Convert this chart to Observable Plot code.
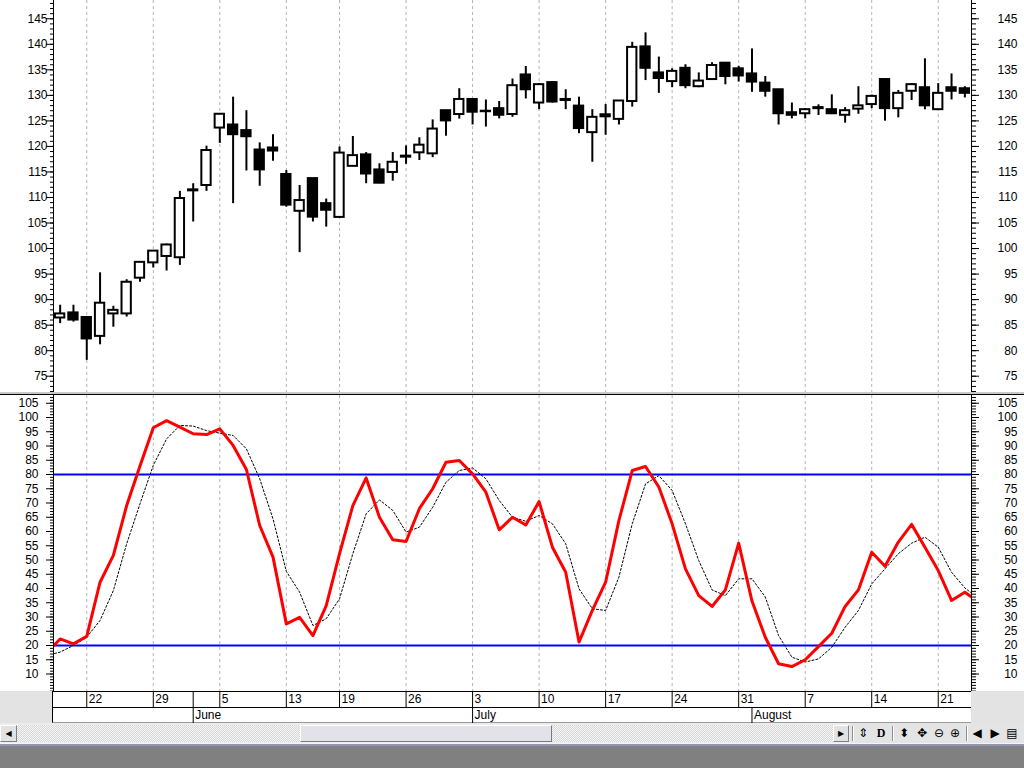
<!DOCTYPE html>
<html>
<head>
<meta charset="utf-8">
<script src="https://cdn.jsdelivr.net/npm/d3@7"></script>
<script src="https://cdn.jsdelivr.net/npm/@observablehq/plot@0.6"></script>
<style>
html, body { margin:0; padding:0; background:#fff; }
#root { position:relative; width:1024px; height:768px; overflow:hidden; font-family:"Liberation Sans", Arial, sans-serif; }
.abs { position:absolute; }
#topChart { left:0; top:0; }
#sep1 { left:0; top:392px; width:1024px; height:2px; background:#c8c8c8; }
#sep2 { left:0; top:394px; width:1024px; height:1px; background:#000; }
#botChart { left:0; top:395px; }
#dateBg { left:0; top:691px; width:1024px; height:32px; background:#e3e3e3; }
#dateBox { left:52px; top:691px; width:919px; height:32px; background:#fff; box-sizing:border-box; border-top:1px solid #000; border-left:1px solid #000; border-bottom:1px solid #9a9a9a; }
#dateMid { left:52px; top:707px; width:919px; height:1px; background:#000; }
#dateChart { left:0; top:691px; }
#scrollRow { left:0; top:723px; width:1024px; height:20px; background:#ececec; }
.btn { top:725px; height:17px; box-sizing:border-box; background:#e2e2e2; border:1px solid; border-color:#fff #808080 #808080 #fff; font-size:8px; line-height:15px; text-align:center; color:#000; font-family:"DejaVu Sans", sans-serif; }
#track { left:17px; top:725px; width:816px; height:17px; background: repeating-conic-gradient(#d6d6d6 0 25%, #f6f6f6 0 50%) 0 0/2px 2px; }
#thumb { left:300px; top:725px; width:252px; height:17px; box-sizing:border-box; background:#e2e2e8; border:1px solid; border-color:#fff #7a7a7a #7a7a7a #fff; }
#tools { left:850px; top:723px; width:174px; height:20px; background:#e4e4e4; }
.ico { position:absolute; top:725px; width:14px; height:17px; line-height:17px; text-align:center; font-family:"DejaVu Sans", sans-serif; font-size:12px; color:#000; }
.tsep { position:absolute; top:726px; width:1px; height:15px; background:#909090; border-right:1px solid #fff; }
#lineA { left:0; top:743px; width:1024px; height:1px; background:#f4f4f4; }
#lineB { left:0; top:744px; width:1024px; height:2px; background:#9494b0; }
#grayBar { left:0; top:746px; width:1024px; height:22px; background:#808080; }
svg { overflow: visible; }
</style>
</head>
<body>
<div id="root">
  <div id="topChart" class="abs"></div>
  <div id="sep1" class="abs"></div>
  <div id="sep2" class="abs"></div>
  <div id="botChart" class="abs"></div>
  <div id="dateBg" class="abs"></div>
  <div id="dateBox" class="abs"></div>
  <div id="dateMid" class="abs"></div>
  <div id="dateChart" class="abs"></div>
  <div id="scrollRow" class="abs"></div>
  <div class="abs btn" style="left:0;width:17px;">◀</div>
  <div id="track" class="abs"></div>
  <div id="thumb" class="abs"></div>
  <div class="abs btn" style="left:833px;width:16px;">▶</div>
  <div id="tools" class="abs"></div>
  <div class="tsep" style="left:852px"></div>
  <div class="ico" style="left:856px">⇕</div>
  <div class="ico" style="left:874px;font-weight:bold;font-family:'Liberation Serif',serif;">D</div>
  <div class="tsep" style="left:892px"></div>
  <div class="ico" style="left:897px">⬍</div>
  <div class="ico" style="left:915px">✥</div>
  <div class="ico" style="left:932px">⊖</div>
  <div class="ico" style="left:948px">⊕</div>
  <div class="tsep" style="left:966px"></div>
  <div class="ico" style="left:970px">◀</div>
  <div class="ico" style="left:988px">▶</div>
  <div class="ico" style="left:1005px">▤</div>
  <div id="lineA" class="abs"></div>
  <div id="lineB" class="abs"></div>
  <div id="grayBar" class="abs"></div>
</div>
<script>
// ---- Data ----
// trading-day index 0 = May 18 ... 68 = Aug 23
const open  = [86.4,87.4,86.5,82.8,87.2,87.2,94.2,97.2,98.45,98.2,
  111.3,112.35,123.6,124.2,123.1,119.3,119.7,114.5,107.3,113.7,
  108.8,106.1,116.1,118.35,115.4,114.9,117.9,118.75,118.55,127.0,
  126.25,129.2,126.8,127.4,126.25,134.0,128.5,132.5,129.0,127.9,
  122.7,125.8,125.3,128.8,139.5,134.4,132.7,135.3,131.7,133.1,
  136.3,135.2,134.2,132.4,131.1,126.6,126.4,127.4,127.2,126.1,
  127.3,128.2,133.1,127.4,130.8,131.5,127.2,131.5,131.3];
const high  = [88.9,88.9,86.7,95.25,88.7,93.9,97.45,99.6,100.9,111.2,
  112.7,120.05,126.4,129.65,127.0,120.7,122.3,115.3,112.35,113.7,
  109.7,119.9,121.95,118.8,116.6,118.8,120.1,121.7,125.2,127.0,
  131.3,129.3,129.1,128.8,133.2,135.66,132.3,132.7,131.1,129.65,
  127.2,128.2,128.9,140.4,142.25,137.5,135.2,136.0,134.4,136.4,
  136.3,135.7,139.1,133.7,131.1,128.5,127.4,128.15,130.1,127.6,
  131.7,130.05,133.1,130.96,132.3,137.16,132.3,134.2,131.7];
const low   = [85.3,85.6,78.1,81.15,84.6,86.6,93.4,96.2,95.6,96.7,
  105.2,111.2,120.6,108.8,115.2,112.2,117.1,108.1,99.2,105.2,
  104.2,106.1,116.1,112.7,112.7,113.2,116.5,117.25,117.8,122.0,
  125.35,124.2,123.8,125.4,125.7,129.3,127.2,128.5,127.2,122.5,
  116.9,122.2,124.2,127.7,132.9,130.4,131.5,131.3,131.5,133.1,
  132.07,132.6,130.6,129.65,124.2,125.4,125.4,126.06,126.3,124.56,
  126.3,127.4,124.95,125.6,129.0,127.17,127.2,129.1,129.5];
const close = [87.2,86.0,82.3,89.3,87.9,93.4,97.3,99.5,100.7,109.8,
  111.5,119.2,126.3,122.3,121.9,115.4,119.1,108.5,109.4,106.15,
  107.5,118.7,118.2,114.6,112.8,116.9,118.1,120.25,123.4,125.0,
  129.2,126.7,126.9,126.1,131.9,131.1,132.1,128.7,129.2,123.5,
  125.7,126.2,128.9,139.4,135.3,133.3,134.7,131.9,132.8,135.85,
  133.7,133.8,132.6,130.8,126.4,126.1,127.2,127.6,126.4,127.0,
  127.95,129.8,127.4,130.4,132.1,127.95,130.4,130.8,130.4];

// stochastic oscillator, first value at trading-day index -1
const stochStart = -1;
const pctK = [17.5,22.3,20.6,23.2,42.2,51.6,69.1,83.0,96.4,98.9,96.6,
  94.3,94.0,96.0,90.2,81.75,62.1,51.0,27.6,29.9,23.5,
  34.0,52.2,69.1,78.8,65.0,57.1,56.5,68.0,75.0,84.3,
  84.9,80.2,73.8,60.6,65.0,62.3,70.5,54.5,45.7,21.2,
  32.3,42.2,63.9,81.4,82.8,75.6,62.7,46.9,37.5,33.7,
  39.5,55.9,35.6,22.9,13.6,12.6,15.0,19.6,24.3,33.7,
  39.5,52.75,47.8,56.3,62.5,54.5,46.3,35.8,38.7,35.4];
const pctD = [16.5,17.7,20.0,22.9,28.8,39.3,55.7,69.7,83.2,92.5,97.2,
  97.0,95.4,94.5,93.7,89.0,78.5,64.4,46.0,38.7,27.0,
  29.4,36.4,52.2,66.2,71.1,67.4,59.8,61.5,68.5,77.3,
  81.4,82.3,78.5,70.9,65.0,63.6,65.6,62.7,55.7,39.9,
  32.9,32.3,44.0,62.7,76.7,79.6,74.4,62.7,49.8,39.5,
  37.5,43.4,43.4,37.0,23.5,15.9,14.2,15.3,19.4,26.4,
  32.3,41.6,46.9,52.2,55.9,58.0,54.5,45.7,40.2,36.6];
const levels = [20, 80];

// date axis
const dayTickIndex = [2,7,12,17,21,26,31,36,41,46,51,56,61,66];
const dayTickLabel = ["22","29","5","13","19","26","3","10","17","24","31","7","14","21"];
const monthIndex = [10,31,52];
const monthLabel = ["June","July","August"];

// value axes
const priceLabels = [75,80,85,90,95,100,105,110,115,120,125,130,135,140,145];
const stochLabels = [10,15,20,25,30,35,40,45,50,55,60,65,70,75,80,85,90,95,100,105];
const priceMinor = d3.range(72, 149);
const stochMinor = d3.range(4, 108);

(function () {
  const candles = open.map((o, i) => ({
    i, o, h: high[i], l: low[i], c: close[i], up: close[i] >= o
  }));
  const kData = pctK.map((v, j) => ({i: j + stochStart, v}));
  const dData = pctD.map((v, j) => ({i: j + stochStart, v}));

  const W = 1024, ML = 53, MR = 53;
  const xDomain = [-0.5, 68.5];
  const font = {fontSize: "12px", fontFamily: "Liberation Sans, Arial, sans-serif", background: "white", overflow: "visible"};
  const grid = () => Plot.ruleX(dayTickIndex, {x: d => d, stroke: "#b4b4b4", strokeDasharray: "3,3"});

  function valueAxes(minor, labels, leftDx) {
    return [
      Plot.axisY(minor, {anchor: "right", tickSize: 4, tickFormat: () => "", label: null}),
      Plot.axisY(labels, {anchor: "right", tickSize: 7, tickFormat: () => "", label: null}),
      Plot.axisY(minor, {anchor: "left", tickSize: 3, tickFormat: () => "", label: null}),
      Plot.axisY(labels, {anchor: "left", tickSize: 7, tickFormat: () => "", label: null}),
      Plot.text(labels, {y: d => d, text: d => String(d), frameAnchor: "right", textAnchor: "end", dx: 46, fill: "black"}),
      Plot.text(labels, {y: d => d, text: d => String(d), frameAnchor: "left", textAnchor: "end", dx: leftDx, fill: "black"}),
      Plot.ruleX(xDomain, {x: d => d, stroke: "black"})
    ];
  }

  const topPlot = Plot.plot({
    width: W, height: 392, marginLeft: ML, marginRight: MR, marginTop: 0, marginBottom: 0,
    style: font,
    x: {domain: xDomain, axis: null},
    y: {domain: [71.81, 148.58]},
    marks: [
      grid(),
      Plot.ruleX(candles, {x: "i", y1: "l", y2: "h", stroke: "black", strokeWidth: 2}),
      Plot.rect(candles, {
        x1: d => d.i - 0.35, x2: d => d.i + 0.35,
        y1: d => Math.min(d.o, d.c), y2: d => Math.max(d.o, d.c),
        fill: d => d.up ? "white" : "black", stroke: "black", strokeWidth: 2
      }),
      ...valueAxes(priceMinor, priceLabels, -6)
    ]
  });
  document.getElementById("topChart").appendChild(topPlot);

  const botPlot = Plot.plot({
    width: W, height: 296, marginLeft: ML, marginRight: MR, marginTop: 0, marginBottom: 0,
    style: font,
    x: {domain: xDomain, axis: null},
    y: {domain: [3.86, 107.72]},
    marks: [
      grid(),
      Plot.ruleY(levels, {y: d => d, stroke: "#0000ff", strokeWidth: 2}),
      Plot.line(dData, {x: "i", y: "v", stroke: "black", strokeWidth: 1, strokeDasharray: "2,2", clip: true}),
      Plot.line(kData, {x: "i", y: "v", stroke: "#ff0000", strokeWidth: 3, clip: true}),
      ...valueAxes(stochMinor, stochLabels, -15)
    ]
  });
  document.getElementById("botChart").appendChild(botPlot);

  const datePlot = Plot.plot({
    width: W, height: 32, marginLeft: ML, marginRight: MR, marginTop: 0, marginBottom: 0,
    style: {...font, background: "transparent"},
    x: {domain: xDomain, axis: null},
    y: {domain: [0, 2], range: [0, 32], axis: null},
    marks: [
      Plot.ruleX(dayTickIndex, {x: d => d, y1: 0, y2: 1, stroke: "black"}),
      Plot.ruleX(monthIndex, {x: d => d, y1: 1, y2: 2, stroke: "black"}),
      Plot.ruleX(monthIndex.slice(0, 1), {x: d => d, y1: 0, y2: 1, stroke: "black"}),
      Plot.text(dayTickIndex, {x: d => d, y: () => 0.5, text: (d, i) => dayTickLabel[i], textAnchor: "start", dx: 2, fill: "black"}),
      Plot.text(monthIndex, {x: d => d, y: () => 1.5, text: (d, i) => monthLabel[i], textAnchor: "start", dx: 2, fill: "black"})
    ]
  });
  document.getElementById("dateChart").appendChild(datePlot);
})();
</script>
</body>
</html>
